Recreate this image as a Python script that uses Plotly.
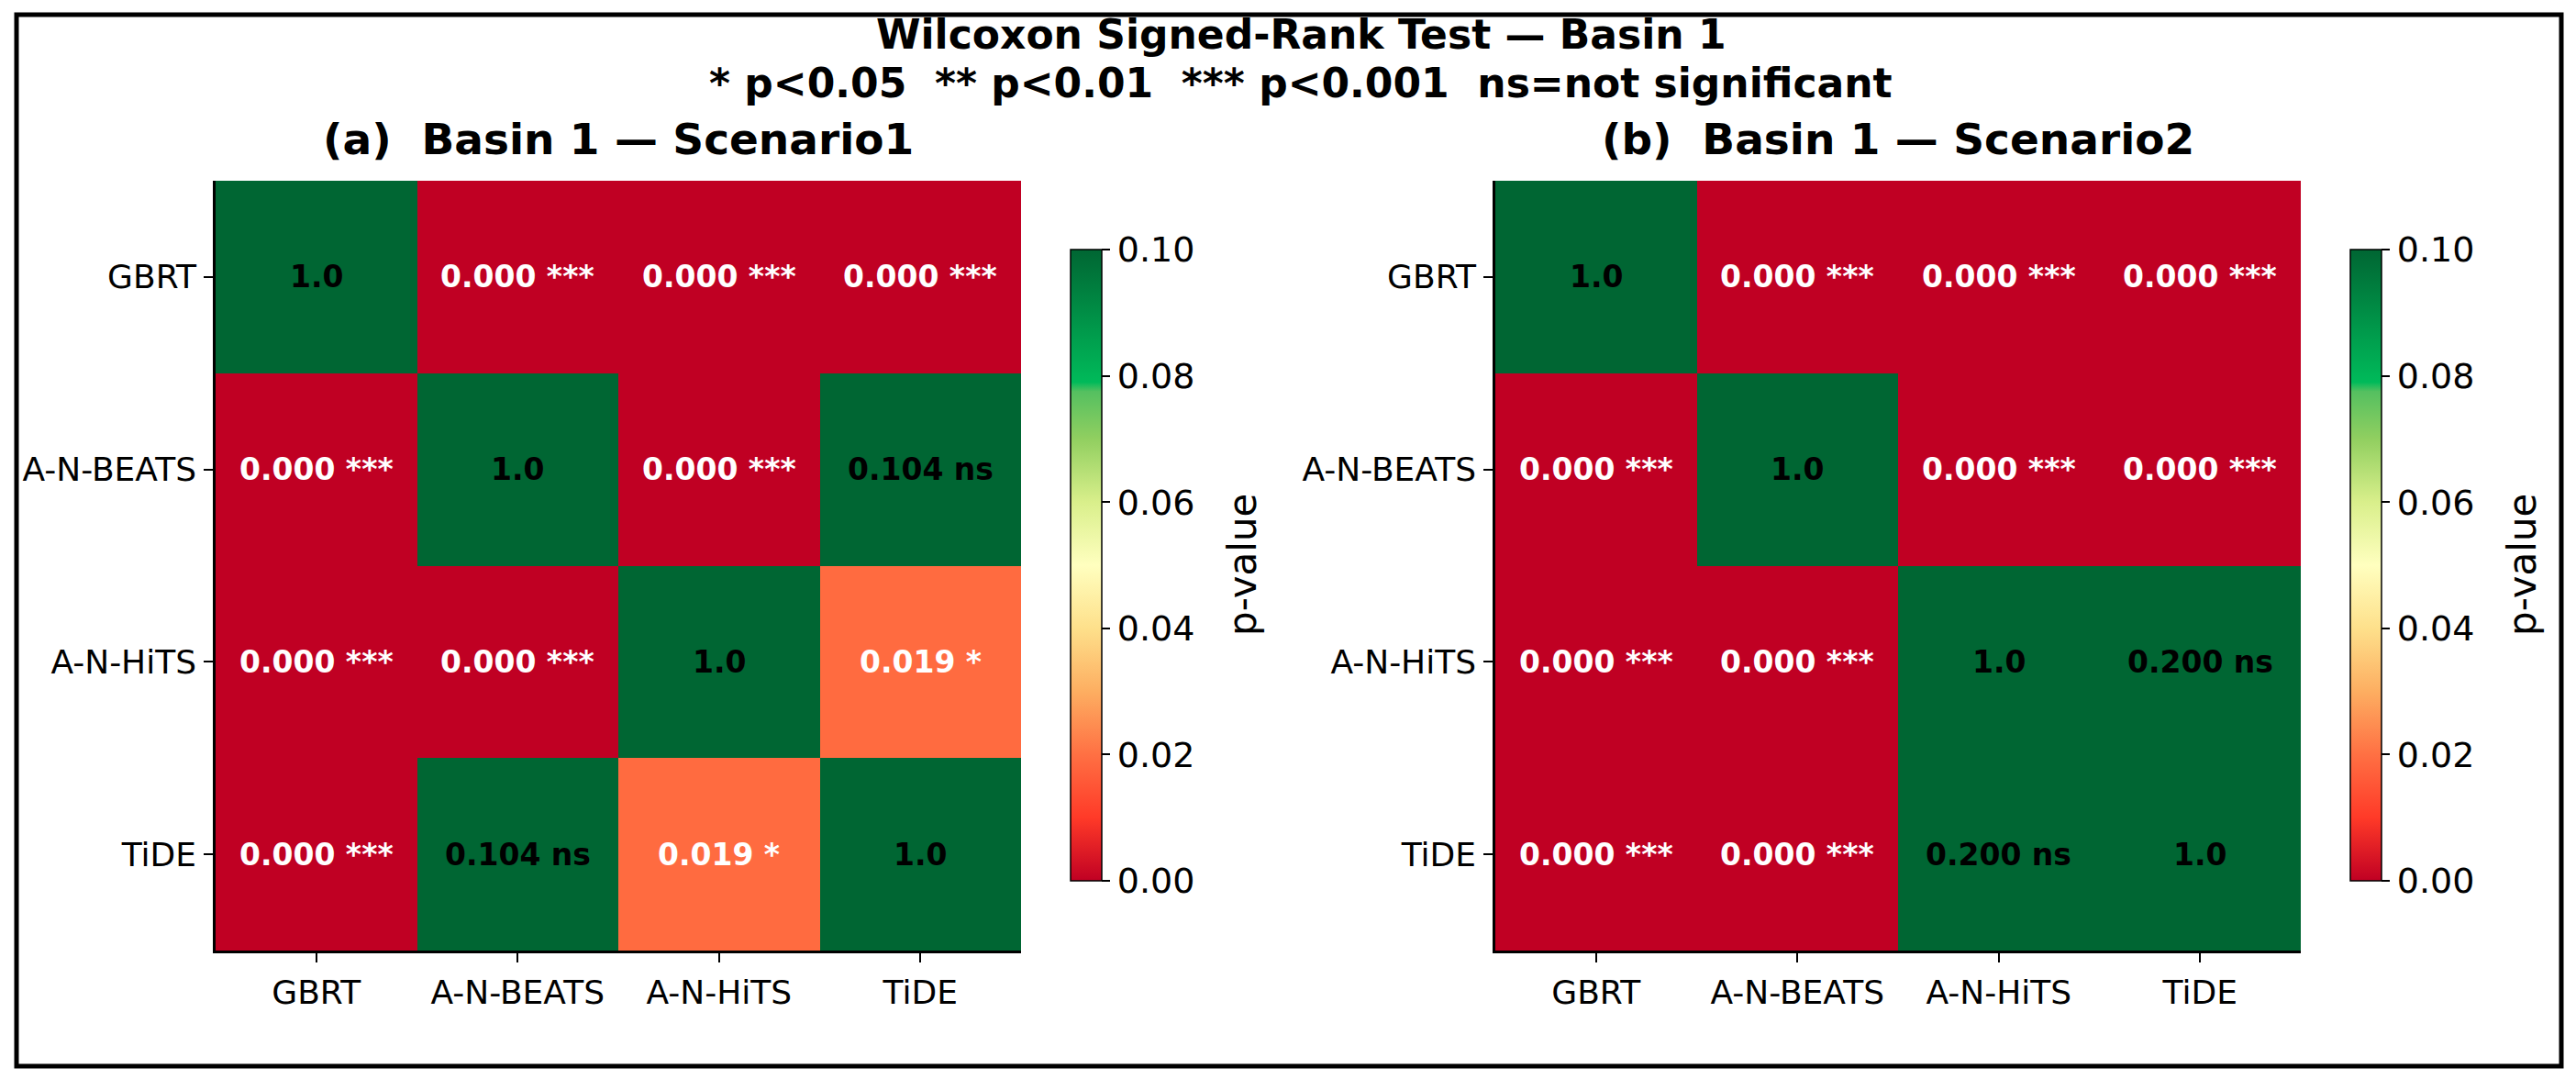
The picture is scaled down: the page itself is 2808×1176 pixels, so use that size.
import plotly.graph_objects as go

# ── data ─────────────────────────────────────────────────────────────────────
MODELS = ["GBRT", "A-N-BEATS", "A-N-HiTS", "TiDE"]

P_SCEN1 = [
    [1.0, 0.000, 0.000, 0.000],
    [0.000, 1.0, 0.000, 0.104],
    [0.000, 0.000, 1.0, 0.019],
    [0.000, 0.104, 0.019, 1.0],
]
P_SCEN2 = [
    [1.0, 0.000, 0.000, 0.000],
    [0.000, 1.0, 0.000, 0.000],
    [0.000, 0.000, 1.0, 0.200],
    [0.000, 0.000, 0.200, 1.0],
]

CB_TICKS = [0.00, 0.02, 0.04, 0.06, 0.08, 0.10]

TITLE_1 = "Wilcoxon Signed-Rank Test — Basin 1"
TITLE_2 = "* p&lt;0.05\u00a0 ** p&lt;0.01\u00a0 *** p&lt;0.001\u00a0 ns=not significant"
SUB_TITLES = ["(a)\u00a0 Basin 1 — Scenario1", "(b)\u00a0 Basin 1 — Scenario2"]
CB_LABEL = "p-value"

# ── style ────────────────────────────────────────────────────────────────────
W, H = 2808, 1176
FONT = "DejaVu Sans"

# red -> yellow -> green, pinned at 0 .. 0.1
SCALE = [
    [0.00, "#C00023"],
    [0.10, "#FF3A28"],
    [0.20, "#FF7043"],
    [0.30, "#FDAE61"],
    [0.40, "#FEE08B"],
    [0.50, "#FFFFBF"],
    [0.60, "#D9EF8B"],
    [0.70, "#91CF60"],
    [0.775, "#55C060"],
    [0.79, "#00BA5A"],
    [1.00, "#006633"],
]


def px_x(p):
    return p / W


def px_y(p):
    return 1 - p / H


def stars(p):
    if p < 0.001:
        return "***"
    if p < 0.01:
        return "**"
    if p < 0.05:
        return "*"
    return "ns"


# panel geometry in pixels (left, right) ; shared top/bottom
PANELS = [(235, 1113), (1630, 2508)]
CBARS = [1167, 2562]
TOP, BOT = 197, 1036
CB_TOP, CB_BOT = 272, 960

fig = go.Figure()
annotations = []

for i, mat in enumerate([P_SCEN1, P_SCEN2]):
    n = "" if i == 0 else str(i + 1)
    fig.add_trace(go.Heatmap(
        z=mat, x=MODELS, y=MODELS,
        coloraxis="coloraxis" + n,
        xaxis="x" + n, yaxis="y" + n,
        hoverinfo="skip",
    ))
    for r, row in enumerate(mat):
        for c, p in enumerate(row):
            txt = "1.0" if r == c else f"{p:.3f} {stars(p)}"
            annotations.append(dict(
                x=MODELS[c], y=MODELS[r], xref="x" + n, yref="y" + n,
                text=f"<b>{txt}</b>", showarrow=False,
                font=dict(family=FONT, size=33, color="white" if p < 0.05 else "black"),
            ))
    l, rgt = PANELS[i]
    annotations.append(dict(
        x=(px_x(l) + px_x(rgt)) / 2, y=px_y(151), xref="paper", yref="paper",
        text=f"<b>{SUB_TITLES[i]}</b>", showarrow=False,
        xanchor="center", yanchor="middle",
        font=dict(family=FONT, size=47, color="black"),
    ))
    # colorbar label
    annotations.append(dict(
        x=px_x(CBARS[i] + 187), y=px_y((CB_TOP + CB_BOT) / 2),
        xref="paper", yref="paper", text=CB_LABEL, textangle=-90,
        showarrow=False, xanchor="center", yanchor="middle",
        font=dict(family=FONT, size=42, color="black"),
    ))

annotations += [
    dict(x=0.505, y=px_y(38), xref="paper", yref="paper", text=f"<b>{TITLE_1}</b>",
         showarrow=False, xanchor="center", yanchor="middle",
         font=dict(family=FONT, size=44, color="black")),
    dict(x=0.505, y=px_y(90), xref="paper", yref="paper", text=f"<b>{TITLE_2}</b>",
         showarrow=False, xanchor="center", yanchor="middle",
         font=dict(family=FONT, size=44, color="black")),
]

axis_common = dict(
    showline=True, linecolor="black", linewidth=2.5,
    ticks="outside", ticklen=10, tickwidth=2, tickcolor="black",
    tickfont=dict(family=FONT, size=36, color="black"),
    showgrid=False, zeroline=False, fixedrange=True,
)

layout = dict(
    width=W, height=H,
    margin=dict(l=0, r=0, t=0, b=0),
    paper_bgcolor="white", plot_bgcolor="white",
    font=dict(family=FONT, color="black"),
    annotations=annotations,
    shapes=[dict(type="rect", xref="paper", yref="paper",
                 x0=px_x(18), x1=px_x(2792), y0=px_y(1162), y1=px_y(16),
                 line=dict(color="black", width=5))],
)

for i in range(2):
    n = "" if i == 0 else str(i + 1)
    l, rgt = PANELS[i]
    layout["xaxis" + n] = dict(axis_common, domain=[px_x(l), px_x(rgt)],
                               anchor="y" + n, ticklabelstandoff=2)
    layout["yaxis" + n] = dict(axis_common, domain=[px_y(BOT), px_y(TOP)],
                               anchor="x" + n, autorange="reversed", ticklabelstandoff=1)
    layout["coloraxis" + n] = dict(
        colorscale=SCALE, cmin=0, cmax=0.1,
        colorbar=dict(
            x=px_x(CBARS[i]), xanchor="left", xref="paper",
            y=px_y((CB_TOP + CB_BOT) / 2), yanchor="middle",
            len=(CB_BOT - CB_TOP) / H, lenmode="fraction",
            thickness=34, thicknessmode="pixels",
            outlinecolor="black", outlinewidth=1.5,
            ticks="outside", ticklen=9, tickwidth=2, tickcolor="black",
            tickvals=CB_TICKS, ticktext=[f"{v:.2f}" for v in CB_TICKS],
            tickfont=dict(family=FONT, size=38, color="black"),
            xpad=0, ypad=0,
        ),
    )

fig.update_layout(**layout)
fig.write_html("out.html", config={"displayModeBar": False},
               post_script="document.body.style.margin='0';")
